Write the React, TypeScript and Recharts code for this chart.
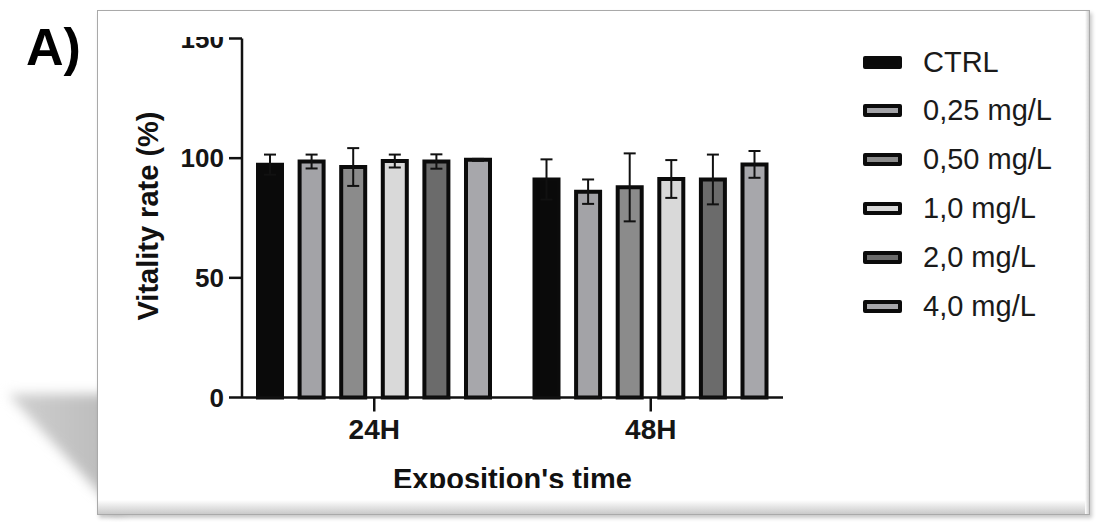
import React from 'react';
import { BarChart, Bar, XAxis, YAxis, ErrorBar, Label } from 'recharts';

const times = ['24H', '48H'];
const seriesNames = ['CTRL', '0,25 mg/L', '0,50 mg/L', '1,0 mg/L', '2,0 mg/L', '4,0 mg/L'];
const seriesColors = ['#0a0a0a', '#a3a3a7', '#8b8b8b', '#d9d9d9', '#6b6b6b', '#a7a7ab'];

const ctrl = [97.3, 91.1];
const ctrlErr = [4.2, 8.4];
const c025 = [98.6, 86.0];
const c025Err = [2.9, 5.1];
const c050 = [96.3, 87.8];
const c050Err = [7.9, 14.2];
const c10 = [98.8, 91.3];
const c10Err = [2.7, 7.9];
const c20 = [98.6, 91.1];
const c20Err = [3.0, 10.4];
const c40 = [99.3, 97.4];
const c40Err = [0.4, 5.6];

const yTicks = [0, 50, 100, 150];

const means = [ctrl, c025, c050, c10, c20, c40];
const errs = [ctrlErr, c025Err, c050Err, c10Err, c20Err, c40Err];

const data = times.map((t, i) => {
  const row: any = { time: t };
  means.forEach((m, s) => {
    row['s' + s] = m[i];
    row['e' + s] = errs[s][i];
  });
  return row;
});

const FONT = '"Liberation Sans", Arial, sans-serif';

export default function App() {
  return (
    <div style={{ position: 'absolute', left: 0, top: 0, width: 1100, height: 522, background: '#fff', overflow: 'hidden', fontFamily: FONT }}>
      {/* soft shadow wedge at lower left */}
      <div style={{ position: 'absolute', left: 0, top: 370, width: 120, height: 152, filter: 'blur(6px)' }}>
        <div style={{
          position: 'absolute', left: 0, top: 0, width: 120, height: 152,
          background: 'linear-gradient(90deg, #d2d2d2, #b9b9b9)',
          clipPath: 'polygon(8px 24px, 120px 24px, 120px 145px)',
        }} />
      </div>
      {/* frame */}
      <div style={{
        position: 'absolute', left: 97, top: 10, width: 993, height: 505, boxSizing: 'border-box',
        background: '#fff', border: '1px solid #a9a9a9', boxShadow: '2px 3px 4px rgba(0,0,0,0.22)',
      }}>
        <div style={{ position: 'absolute', left: 0, right: 0, bottom: 0, height: 14, background: 'linear-gradient(#ffffff, #c9c9c9)' }} />
        <div style={{ position: 'absolute', top: 0, bottom: 0, right: 0, width: 4, background: 'linear-gradient(90deg, #ffffff, #d0d0d0)' }} />
      </div>
      <div style={{ position: 'absolute', left: 26, top: 17, fontSize: 52, fontWeight: 'bold', color: '#000', lineHeight: '60px' }}>A)</div>

      {/* chart, clipped like the original crop */}
      <div style={{ position: 'absolute', left: 98, top: 37, width: 990, height: 451, overflow: 'hidden' }}>
        <div style={{ position: 'absolute', left: -98, top: -37 }}>
          <BarChart width={1100} height={522} data={data} barSize={24} barGap={17.6}
            margin={{ top: 38.5, right: 317, bottom: 64.5, left: 162 }}>
            <XAxis dataKey="time" height={60} padding={{ left: -6, right: -6 }}
              axisLine={{ stroke: '#111', strokeWidth: 2.5 }} tickLine={{ stroke: '#111', strokeWidth: 2.5 }}
              tickSize={14} tickMargin={8}
              tick={{ fontSize: 28, fontWeight: 'bold', fill: '#151515', fontFamily: FONT }}>
              <Label content={({ viewBox }: any) => (
                <text x={viewBox.x + viewBox.width / 2} y={489} textAnchor="middle"
                  style={{ fontSize: 29, fontWeight: 'bold', fill: '#111', fontFamily: FONT }}>Exposition's time</text>
              )} />
            </XAxis>
            <YAxis width={80} domain={[0, 150]} ticks={yTicks} interval={0}
              axisLine={{ stroke: '#111', strokeWidth: 2.5 }} tickLine={{ stroke: '#111', strokeWidth: 2.5 }}
              tickSize={13} tickMargin={5}
              tick={{ fontSize: 26, fontWeight: 'bold', fill: '#151515', fontFamily: FONT }}>
              <Label content={({ viewBox }: any) => {
                const cx = viewBox.x + viewBox.width - 94;
                const cy = viewBox.y + viewBox.height / 2 - 2;
                return (
                  <text x={cx} y={cy} textAnchor="middle" dominantBaseline="central"
                    transform={`rotate(-90, ${cx}, ${cy})`}
                    style={{ fontSize: 29, fontWeight: 'bold', fill: '#111', fontFamily: FONT }}>Vitality rate (%)</text>
                );
              }} />
            </YAxis>
            {seriesNames.map((name, s) => (
              <Bar key={name} dataKey={'s' + s} name={name} fill={seriesColors[s]}
                stroke="#0b0b0b" strokeWidth={4} isAnimationActive={false}>
                <ErrorBar dataKey={'e' + s} width={6} stroke="#111" strokeWidth={2} direction="y" />
              </Bar>
            ))}
          </BarChart>
        </div>
      </div>

      {/* legend */}
      {seriesNames.map((name, s) => (
        <div key={name} style={{ position: 'absolute', left: 863, top: 62 + s * 48.8 - 20, height: 40, display: 'flex', alignItems: 'center' }}>
          <div style={{ width: 39, height: 13, boxSizing: 'border-box', border: '4px solid #0b0b0b', borderRadius: 2, background: seriesColors[s] }} />
          <span style={{ marginLeft: 21, fontSize: 29, color: '#1a1a1a', whiteSpace: 'nowrap' }}>{name}</span>
        </div>
      ))}
    </div>
  );
}
